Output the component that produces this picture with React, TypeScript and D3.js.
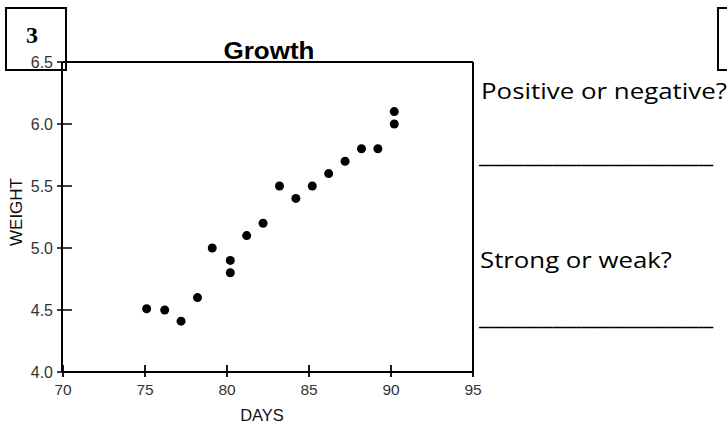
import React from "react";
import * as d3 from "d3";

const days = [75.1, 76.2, 77.2, 78.2, 79.1, 80.2, 80.2, 81.2, 82.2, 83.2, 84.2, 85.2, 86.2, 87.2, 88.2, 89.2, 90.2, 90.2];
const weights = [4.51, 4.5, 4.41, 4.6, 5.0, 4.9, 4.8, 5.1, 5.2, 5.5, 5.4, 5.5, 5.6, 5.7, 5.8, 5.8, 6.0, 6.1];
const xTicks = [70, 75, 80, 85, 90, 95];
const yTicks = [4.0, 4.5, 5.0, 5.5, 6.0, 6.5];
const title = "Growth";
const xLabel = "DAYS";
const yLabel = "WEIGHT";
const questions = ["Positive or negative?", "Strong or weak?"];
const blank = "________________";
const problemNumber = "3";

export default function App() {
  const x = d3.scaleLinear().domain([70, 95]).range([63, 473]);
  const y = d3.scaleLinear().domain([4, 6.5]).range([372, 62]);
  const sans = "'Liberation Sans', Arial, Helvetica, sans-serif";
  const body = "'Open Sans', 'Noto Sans', sans-serif";
  const fmt = d3.format(".1f");
  return (
    <svg width={727} height={427} style={{ position: "absolute", left: 0, top: 0, background: "#fff" }}>
      {/* problem number box */}
      <rect x={6} y={8} width={60} height={62} fill="none" stroke="#000" strokeWidth={2} />
      <text x={32} y={43} textAnchor="middle" fontFamily="'Liberation Serif', 'Times New Roman', serif" fontWeight="bold" fontSize={24}>{problemNumber}</text>
      {/* top-right box */}
      <rect x={718} y={8} width={30} height={62} fill="none" stroke="#000" strokeWidth={2} />

      {/* title */}
      <text x={269} y={59} textAnchor="middle" fontFamily={sans} fontWeight="bold" fontSize={24} textLength={91} lengthAdjust="spacingAndGlyphs">{title}</text>

      {/* frame */}
      <line x1={x(70)} x2={x(95)} y1={y(6.5)} y2={y(6.5)} stroke="#000" strokeWidth={2} />
      <line x1={x(95)} x2={x(95)} y1={y(6.5)} y2={y(4)} stroke="#000" strokeWidth={2} />
      <line x1={x(70) - 1} x2={x(70) - 1} y1={y(6.5)} y2={y(4)} stroke="#000" strokeWidth={2} />
      <line x1={x(70) - 1} x2={x(95)} y1={y(4)} y2={y(4)} stroke="#000" strokeWidth={2} />

      {/* y ticks */}
      {yTicks.map((t) => (
        <g key={"y" + t}>
          <line x1={57} x2={72} y1={y(t)} y2={y(t)} stroke="#000" strokeWidth={1.5} />
          <text x={53} y={y(t)} dy="0.36em" textAnchor="end" fontFamily={sans} fontSize={16} fill="#333">{fmt(t)}</text>
        </g>
      ))}
      {/* x ticks */}
      {xTicks.map((t) => (
        <g key={"x" + t}>
          <line x1={x(t)} x2={x(t)} y1={365} y2={377} stroke="#000" strokeWidth={1.8} />
          <text x={x(t)} y={395} textAnchor="middle" fontFamily={sans} fontSize={15.5} fill="#333">{t}</text>
        </g>
      ))}

      <text x={262} y={421} textAnchor="middle" fontFamily={sans} fontSize={16.5} fill="#111">{xLabel}</text>
      <text transform="translate(22,212) rotate(-90)" textAnchor="middle" fontFamily={sans} fontSize={17} fill="#111">{yLabel}</text>

      {/* points */}
      {days.map((d, i) => (
        <circle key={i} cx={x(d)} cy={y(weights[i])} r={4.5} fill="#000" />
      ))}

      {/* questions */}
      <text x={481} y={99} fontFamily={body} fontSize={22} textLength={246} lengthAdjust="spacingAndGlyphs">{questions[0]}</text>
      <text x={479} y={163} fontFamily={body} fontWeight="bold" fontSize={22} textLength={234} lengthAdjust="spacingAndGlyphs">{blank}</text>
      <text x={480} y={268} fontFamily={body} fontSize={22} textLength={192} lengthAdjust="spacingAndGlyphs">{questions[1]}</text>
      <text x={479} y={325} fontFamily={body} fontWeight="bold" fontSize={22} textLength={234} lengthAdjust="spacingAndGlyphs">{blank}</text>
    </svg>
  );
}
